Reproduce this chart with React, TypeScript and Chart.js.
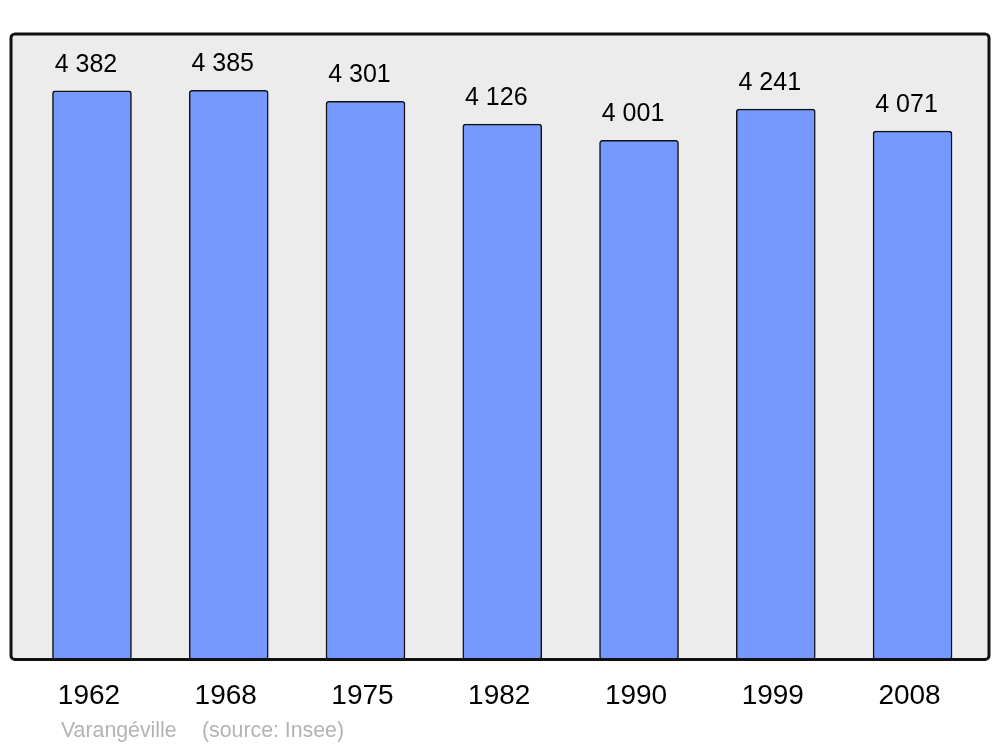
import React, { useEffect, useRef } from "react";
import { Chart, registerables } from "chart.js";

Chart.register(...registerables);

const years = ["1962", "1968", "1975", "1982", "1990", "1999", "2008"];
const population = [4382, 4385, 4301, 4126, 4001, 4241, 4071];
const commune = "Varangéville";
const source = "(source: Insee)";

const FONT = "'Liberation Sans', Arial, sans-serif";

function fmt(v: number): string {
  const s = String(v);
  return s.replace(/\B(?=(\d{3})+(?!\d))/g, " ");
}

const framePlugin = {
  id: "frame",
  beforeDatasetsDraw(chart: any) {
    const { ctx, chartArea: a } = chart;
    ctx.save();
    ctx.fillStyle = "#ececec";
    ctx.beginPath();
    ctx.roundRect(a.left, a.top, a.right - a.left, a.bottom - a.top, 4);
    ctx.fill();
    ctx.restore();
  },
  afterDatasetsDraw(chart: any) {
    const { ctx, chartArea: a } = chart;
    ctx.save();
    ctx.strokeStyle = "#111";
    ctx.lineWidth = 3;
    ctx.beginPath();
    ctx.roundRect(a.left, a.top, a.right - a.left, a.bottom - a.top, 4);
    ctx.stroke();
    // value labels
    const meta = chart.getDatasetMeta(0);
    ctx.fillStyle = "#000";
    ctx.font = `25px ${FONT}`;
    ctx.textAlign = "center";
    ctx.textBaseline = "middle";
    meta.data.forEach((bar: any, i: number) => {
      ctx.fillText(fmt(population[i]), bar.x - 6, bar.y - 26);
    });
    // source line
    ctx.fillStyle = "#b3b3b3";
    ctx.font = `21.3px ${FONT}`;
    ctx.textAlign = "left";
    ctx.fillText(commune, 61, 731);
    ctx.fillText(source, 202, 731);
    ctx.restore();
  },
};

export default function App() {
  const ref = useRef<HTMLCanvasElement | null>(null);
  useEffect(() => {
    document.body.style.margin = "0";
    const canvas = ref.current!;
    const chart = new Chart(canvas, {
      type: "bar",
      data: {
        datasets: [
          {
            data: years.map((_, i) => ({ x: i, y: population[i] })),
            backgroundColor: "#7599ff",
            borderColor: "#111",
            borderWidth: 1.5,
            borderRadius: 3,
            borderSkipped: false,
            barThickness: 79,
          },
        ],
      },
      options: {
        animation: false,
        responsive: false,
        devicePixelRatio: 1,
        layout: { padding: { left: 11, right: 11, top: 34, bottom: 14 } },
        plugins: { legend: { display: false }, tooltip: { enabled: false }, title: { display: false } },
        scales: {
          x: {
            type: "linear",
            offset: false,
            min: -0.592,
            max: 6.559,
            grid: { display: false, drawTicks: false },
            border: { display: false },
            afterBuildTicks: (scale: any) => {
              scale.ticks = years.map((_, i) => ({ value: i }));
            },
            ticks: {
              padding: 20,
              labelOffset: -3,
              color: "#000",
              font: { family: FONT, size: 28 },
              maxRotation: 0,
              autoSkip: false,
              callback: (v: any) => years[Number(v)] ?? "",
            },
          },
          y: {
            display: false,
            min: 0,
            max: 4820,
          },
        },
      },
      plugins: [framePlugin],
    });
    return () => chart.destroy();
  }, []);
  return <canvas ref={ref} width={1000} height={747} style={{ display: "block" }} />;
}
